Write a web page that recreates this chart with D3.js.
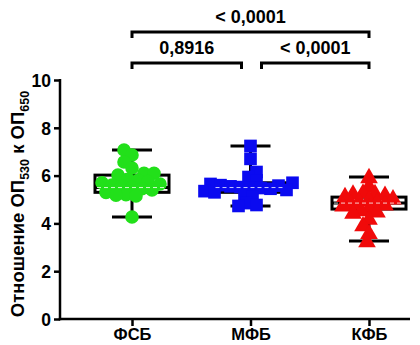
<!DOCTYPE html>
<html><head><meta charset="utf-8">
<script src="https://cdn.jsdelivr.net/npm/d3@7/dist/d3.min.js"></script>
<style>body{margin:0;background:#fff}svg{display:block}text{font-family:"Liberation Sans",Arial,sans-serif;font-weight:bold}</style>
</head><body><svg id="c" width="420" height="345"></svg>
<script>
const categories = ["ФСБ", "МФБ", "КФБ"];
const colors = ["#22e01a", "#0a0af0", "#f00a0a"];
const fsbValues = [7.07, 6.86, 6.57, 6.32, 6.1, 6.1, 6.02, 5.85, 5.8, 5.75, 5.7, 5.65, 5.6, 5.55, 5.5, 5.45, 5.4, 5.3, 5.2, 5.18, 5.15, 4.27];
const mfbValues = [7.24, 6.7, 6.15, 5.94, 5.8, 5.7, 5.65, 5.6, 5.58, 5.55, 5.52, 5.5, 5.48, 5.45, 5.4, 5.35, 5.3, 5.2, 5.1, 4.85, 4.77, 4.73];
const kfbValues = [5.94, 5.57, 5.3, 5.27, 5.25, 5.2, 5.15, 5.05, 5.0, 4.95, 4.9, 4.85, 4.8, 4.75, 4.65, 4.55, 4.5, 4.45, 4.2, 3.93, 3.6, 3.26];
const q1 = [5.3, 5.3, 4.6];
const medians = [5.5, 5.5, 4.85];
const q3 = [6.02, 5.7, 5.1];
const yTicks = [0, 2, 4, 6, 8, 10];
const comparisons = [
  {a: 0, b: 1, label: "0,8916", level: 0},
  {a: 1, b: 2, label: "< 0,0001", level: 0},
  {a: 0, b: 2, label: "< 0,0001", level: 1}
];

const groups = [fsbValues, mfbValues, kfbValues];
const svg = d3.select("#c");
const x = d3.scalePoint().domain(categories).range([132, 369]);
const y = d3.scaleLinear().domain([0, 10]).range([319, 80]);
const axisLeft = 60, axisRight = 410;
const boxW = 74, capW = 40, markR = 6.8;

// Y axis
const ya = svg.append("g").attr("transform", `translate(${axisLeft},0)`)
  .call(d3.axisLeft(y).tickValues(yTicks).tickSize(6).tickPadding(3).tickFormat(d3.format("d")));
ya.select(".domain").remove();
ya.selectAll(".tick line").attr("stroke", "#000").attr("stroke-width", 2.5);
ya.selectAll(".tick text").attr("font-size", 17.5).attr("fill", "#000").attr("dy", "0.36em");
svg.append("line").attr("x1", axisLeft).attr("x2", axisLeft).attr("y1", y(10) - 1).attr("y2", y(0) + 1.25)
  .attr("stroke", "#000").attr("stroke-width", 2.5);

// X axis
svg.append("line").attr("x1", axisLeft - 1.25).attr("x2", axisRight).attr("y1", y(0)).attr("y2", y(0))
  .attr("stroke", "#000").attr("stroke-width", 2.5);
const xa = svg.append("g").attr("transform", `translate(0,${y(0)})`)
  .call(d3.axisBottom(x).tickSize(7).tickPadding(2));
xa.select(".domain").remove();
xa.selectAll(".tick line").attr("stroke", "#000").attr("stroke-width", 2.5);
xa.selectAll(".tick text").attr("font-size", 16.5).attr("fill", "#000").attr("dy", "0.72em");

// Y title
const yt = svg.append("text").attr("transform", "translate(24,204) rotate(-90)")
  .attr("text-anchor", "middle").attr("font-size", 18.5).attr("fill", "#000");
yt.append("tspan").text("Отношение ОП");
yt.append("tspan").text("530").attr("font-size", 12.5).attr("dy", 5);
yt.append("tspan").text(" к ОП").attr("dy", -5);
yt.append("tspan").text("650").attr("font-size", 12.5).attr("dy", 5);

// Box plots
categories.forEach((c, i) => {
  const cx = x(c), vals = groups[i];
  const g = svg.append("g");
  const mn = d3.min(vals), mx = d3.max(vals);
  g.append("line").attr("x1", cx).attr("x2", cx).attr("y1", y(mx)).attr("y2", y(mn)).attr("stroke", "#000").attr("stroke-width", 3);
  [mn, mx].forEach(v => g.append("line").attr("x1", cx - capW / 2).attr("x2", cx + capW / 2).attr("y1", y(v)).attr("y2", y(v)).attr("stroke", "#000").attr("stroke-width", 3));
  g.append("rect").attr("x", cx - boxW / 2).attr("y", y(q3[i])).attr("width", boxW).attr("height", y(q1[i]) - y(q3[i]))
    .attr("fill", "#fff").attr("stroke", "#000").attr("stroke-width", 3);
  g.append("line").attr("x1", cx - boxW / 2).attr("x2", cx + boxW / 2).attr("y1", y(medians[i])).attr("y2", y(medians[i])).attr("stroke", "#000").attr("stroke-width", 3);
});

// Beeswarm layout (deterministic)
function swarm(vals, cx, minDist, stepX) {
  const placed = [];
  const order = vals.map((v, i) => i).sort((a, b) => Math.abs(vals[a] - 5.5) - Math.abs(vals[b] - 5.5));
  const out = new Array(vals.length);
  order.forEach(i => {
    const py = y(vals[i]);
    for (let k = 0; k < 200; k++) {
      const off = (k % 2 === 0 ? 1 : -1) * Math.ceil(k / 2) * stepX;
      const px = cx + off;
      if (placed.every(p => Math.hypot(p[0] - px, p[1] - py) >= minDist)) {
        placed.push([px, py]); out[i] = [px, py]; break;
      }
    }
  });
  return out;
}

categories.forEach((c, i) => {
  const pts = swarm(groups[i], x(c), i === 0 ? 9 : 8.3, 2);
  const sym = d3.symbol().type(i === 0 ? d3.symbolCircle : i === 1 ? d3.symbolSquare : d3.symbolTriangle)
    .size(i === 0 ? Math.PI * markR * markR : i === 1 ? 160 : 135);
  svg.append("g").selectAll("path").data(pts).join("path")
    .attr("transform", d => `translate(${d[0]},${d[1] + (i === 2 ? 1 : 0)})`)
    .attr("d", sym).attr("fill", colors[i]);
  svg.append("line").attr("x1", x(c) - boxW / 2 + 2).attr("x2", x(c) + boxW / 2 - 2)
    .attr("y1", y(medians[i])).attr("y2", y(medians[i]))
    .attr("stroke", "#fff").attr("stroke-width", 1).attr("stroke-dasharray", "4,3").attr("opacity", 0.8);
});

// Significance brackets
const levelY = [63, 32];
comparisons.forEach(cmp => {
  const x1 = x(categories[cmp.a]) + (cmp.level === 0 && cmp.a === 1 ? 11 : 0);
  const x2 = x(categories[cmp.b]) - (cmp.level === 0 && cmp.b === 1 ? 9 : 0);
  const ly = levelY[cmp.level];
  svg.append("path").attr("d", `M${x1},${ly + 6}V${ly}H${x2}V${ly + 6}`)
    .attr("fill", "none").attr("stroke", "#000").attr("stroke-width", 3);
  svg.append("text").attr("x", (x1 + x2) / 2).attr("y", ly - 9).attr("text-anchor", "middle")
    .attr("font-size", 18).attr("fill", "#000").text(cmp.label);
});
</script></body></html>
